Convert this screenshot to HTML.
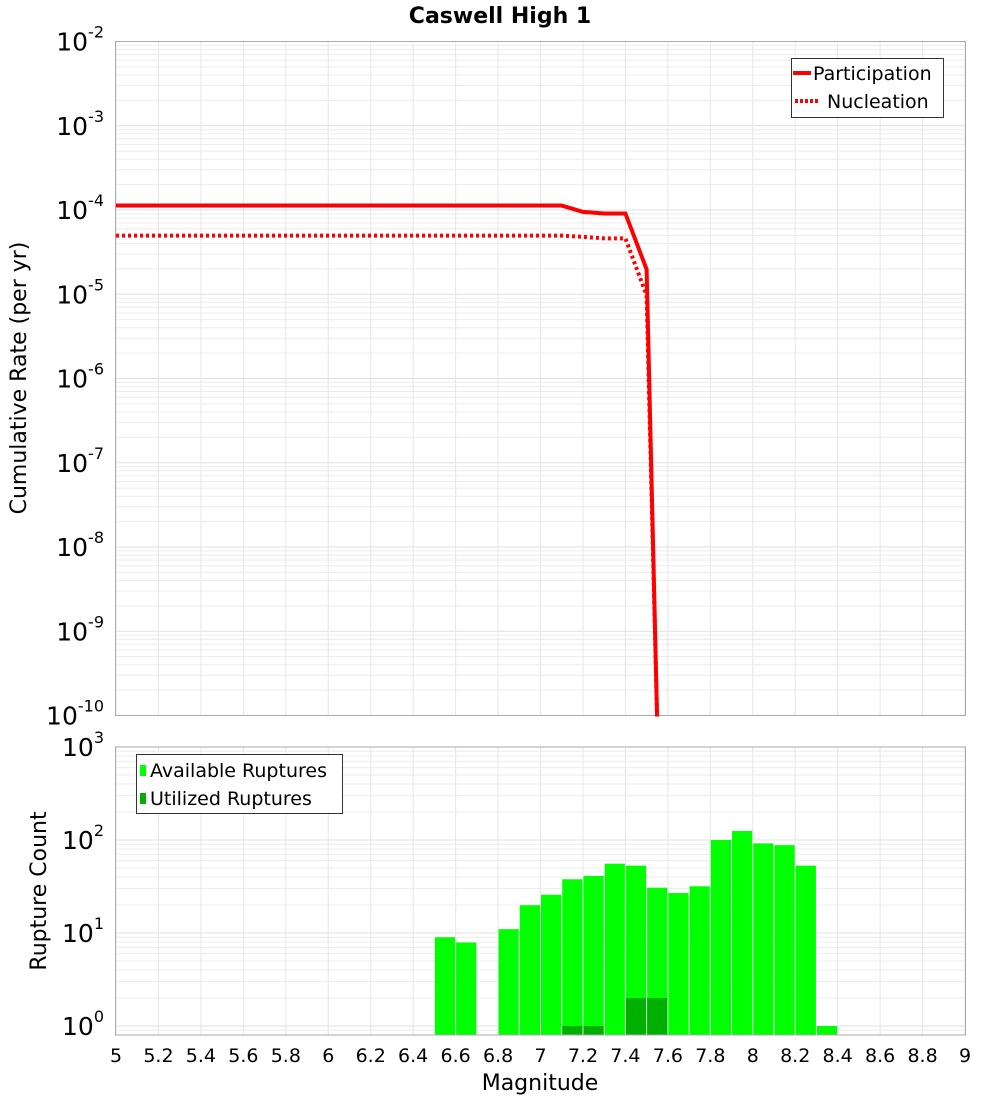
<!DOCTYPE html>
<html><head><meta charset="utf-8"><style>
body{margin:0;background:#fff;width:1000px;height:1100px;overflow:hidden}
svg text{font-family:"DejaVu Sans","Liberation Sans",sans-serif;fill:#000}
</style></head><body>
<svg id="chart" width="1000" height="1100" xmlns="http://www.w3.org/2000/svg">
<g id="topplot"></g>
<g id="botplot"></g>
</svg>
<script>
const magTicks=[5,5.2,5.4,5.6,5.8,6,6.2,6.4,6.6,6.8,7,7.2,7.4,7.6,7.8,8,8.2,8.4,8.6,8.8,9];
const partMags=[5,7.1,7.2,7.3,7.4,7.5,7.55];
const partRates=[1.13e-4,1.13e-4,9.5e-5,9.1e-5,9.1e-5,1.97e-5,1e-11];
const nuclMags=[5,7.1,7.2,7.3,7.4,7.5,7.55];
const nuclRates=[4.97e-5,4.97e-5,4.8e-5,4.6e-5,4.6e-5,9.7e-6,1e-11];
const binMags=[6.55,6.65,6.85,6.95,7.05,7.15,7.25,7.35,7.45,7.55,7.65,7.75,7.85,7.95,8.05,8.15,8.25,8.35];
const availCounts=[9,7.9,11,19.9,25.8,37.8,41,55.6,53,30.7,26.9,31.8,100,125,92,88,53,1];
const usedMags=[7.15,7.25,7.45,7.55];
const usedCounts=[1,1,2,2];
const topDecades=[-2,-3,-4,-5,-6,-7,-8,-9,-10];
const botDecades=[3,2,1,0];

const NS="http://www.w3.org/2000/svg";
const X0=116,X1=965;
const xs=m=>X0+(m-5)/4*(X1-X0);
const T0=41.5,T1=715.5;
const yTop=v=>{let l=Math.log10(v);l=Math.max(-10.1,Math.min(-2,l));return T0+(-2-l)/8*(T1-T0);};
const B0=747,B1=1035,DEC=93;
const yBot=v=>1026-Math.log10(v)*DEC;
function el(p,tag,a,txt){const e=document.createElementNS(NS,tag);for(const k in a)e.setAttribute(k,a[k]);if(txt!==undefined)e.textContent=txt;p.appendChild(e);return e;}
const topG=document.getElementById('topplot'),botG=document.getElementById('botplot');
const svgEl=document.getElementById('chart');

let t=el(svgEl,'text',{x:500,y:23,'text-anchor':'middle','font-size':22,'font-weight':'bold'},'Caswell High 1');



for(let d=-10;d<-2;d++){for(let k=1;k<10;k++){const y=yTop(k*Math.pow(10,d));if(y<T0||y>T1)continue;
 const g=el(topG,'line',{x1:X0,x2:X1,y1:y,y2:y,stroke:k==1?'#e0e0e0':'#ececec','stroke-width':1});
 
 }}
magTicks.forEach(m=>{const x=xs(m);const g=el(topG,'line',{x1:x,x2:x,y1:T0,y2:T1,stroke:'#e6e6e6'});
 
 });
let fr=el(topG,'rect',{x:X0-0.5,y:T0,width:X1-X0+1,height:T1-T0,fill:'none',stroke:'#aaa'});


topDecades.forEach(d=>{const y=yTop(Math.pow(10,d));
 const tx=el(topG,'text',{x:104,y:y+9,'text-anchor':'end','font-size':25});
 
 
 el(tx,'tspan',{},'10');el(tx,'tspan',{dy:-13,'font-size':16},String(d));});
let yt=el(topG,'text',{transform:'translate(26,378) rotate(-90)','text-anchor':'middle','font-size':22},'Cumulative Rate (per yr)');



const defs=el(svgEl,'defs',{});const cp=el(defs,'clipPath',{id:'tc'});el(cp,'rect',{x:X0,y:T0,width:X1-X0,height:T1-T0+1});
const pts=(ms,vs)=>ms.map((m,i)=>xs(m)+','+yTop(vs[i])).join(' ');
let pl=el(topG,'polyline',{points:pts(partMags,partRates),fill:'none',stroke:'#ff0000','stroke-width':4,'clip-path':'url(#tc)'});


let nl=el(topG,'polyline',{points:pts(nuclMags,nuclRates),fill:'none',stroke:'#ff0000','stroke-width':4,'stroke-dasharray':'3,3','clip-path':'url(#tc)'});


const lg=el(topG,'g',{});


el(lg,'rect',{x:791.5,y:58.5,width:152,height:59,fill:'#fff',stroke:'#333'});
el(lg,'line',{x1:793,x2:811,y1:73,y2:73,stroke:'#f00','stroke-width':4});
el(lg,'text',{x:813,y:80,'font-size':19},'Participation');
el(lg,'line',{x1:795,x2:819,y1:101,y2:101,stroke:'#f00','stroke-width':4,'stroke-dasharray':'3,2'});
el(lg,'text',{x:827,y:108,'font-size':19},'Nucleation');

for(let d=-1;d<3;d++){for(let k=1;k<10;k++){const y=yBot(k*Math.pow(10,d));if(y<B0||y>B1)continue;
 const g=el(botG,'line',{x1:X0,x2:X1,y1:y,y2:y,stroke:k==1?'#e0e0e0':'#ececec'});
 
 }}
magTicks.forEach(m=>{const x=xs(m);const g=el(botG,'line',{x1:x,x2:x,y1:B0,y2:B1,stroke:'#e6e6e6'});
 
 });
const bw=(X1-X0)/40;
binMags.forEach((m,i)=>{const y=yBot(availCounts[i]);
 const r=el(botG,'rect',{x:xs(m)-bw/2+0.5,y:y,width:bw-1,height:B1-y,fill:'#00ff00'});
 
 });
usedMags.forEach((m,i)=>{const y=yBot(usedCounts[i]);
 const r=el(botG,'rect',{x:xs(m)-bw/2+0.5,y:y,width:bw-1,height:B1-y,fill:'#00b000'});
 
 });
let bf=el(botG,'rect',{x:X0-0.5,y:B0,width:X1-X0+1,height:B1-B0,fill:'none',stroke:'#aaa'});


botDecades.forEach(d=>{const y=yBot(Math.pow(10,d));
 const tx=el(botG,'text',{x:104,y:y+9,'text-anchor':'end','font-size':25});
 
 
 el(tx,'tspan',{},'10');el(tx,'tspan',{dy:-13,'font-size':16},String(d));});
magTicks.forEach(m=>{const tx=el(botG,'text',{x:xs(m),y:1062,'text-anchor':'middle','font-size':19},String(m));
 
 });
let xt=el(botG,'text',{x:540,y:1090,'text-anchor':'middle','font-size':22},'Magnitude');


let yt2=el(botG,'text',{transform:'translate(46,891) rotate(-90)','text-anchor':'middle','font-size':22},'Rupture Count');


const lg2=el(botG,'g',{});


el(lg2,'rect',{x:136.5,y:754.5,width:206,height:59,fill:'#fff',stroke:'#333'});
el(lg2,'rect',{x:140,y:765,width:6,height:11,fill:'#00ff00'});
el(lg2,'text',{x:150,y:777,'font-size':19},'Available Ruptures');
el(lg2,'rect',{x:140,y:793,width:6,height:11,fill:'#00b000'});
el(lg2,'text',{x:150,y:805,'font-size':19},'Utilized Ruptures');
</script>
</body></html>
